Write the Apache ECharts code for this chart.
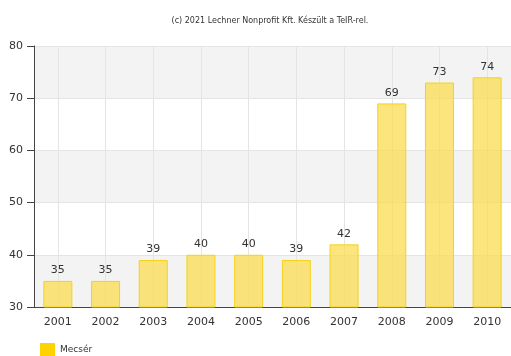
<!DOCTYPE html>
<html>
<head>
<meta charset="utf-8">
<script src="https://cdn.jsdelivr.net/npm/echarts@6/dist/echarts.min.js"></script>
<style>
html,body{margin:0;padding:0;background:#fff;}
#chart{width:511px;height:356px;}
</style>
</head>
<body>
<div id="chart"></div>
<script>
// Years on the category axis
const years = ['2001','2002','2003','2004','2005','2006','2007','2008','2009','2010'];
// Values for Mecsér
const mecserValues = [35, 35, 39, 40, 40, 39, 42, 69, 73, 74];
const seriesName = 'Mecsér';
const sourceNote = '(c) 2021 Lechner Nonprofit Kft. Készült a TeIR-rel.';

const chart = echarts.init(document.getElementById('chart'), null, {renderer: 'canvas'});
const font = 'Verdana, "DejaVu Sans", sans-serif';

chart.setOption({
  animation: false,
  title: {
    text: sourceNote,
    left: 265, top: 12, textAlign: 'center',
    textStyle: {fontSize: 8, fontWeight: 'normal', color: '#333', fontFamily: font}
  },
  legend: {
    data: [seriesName],
    left: 40, top: 343,
    padding: 0,
    itemWidth: 15, itemHeight: 14,
    itemGap: 6,
    icon: 'rect',
    textStyle: {fontSize: 9, color: '#333', fontFamily: font},
    itemStyle: {color: '#ffd200', borderWidth: 0, opacity: 1}
  },
  grid: {left: 34, right: -2, top: 46, bottom: 49, containLabel: false},
  xAxis: {
    type: 'category',
    data: years,
    axisLine: {lineStyle: {color: '#444', width: 1}},
    axisTick: {alignWithLabel: true, length: 5, lineStyle: {color: '#444'}},
    axisLabel: {fontSize: 11, color: '#333', fontFamily: font, margin: 10},
    splitLine: {show: true, alignWithLabel: true, lineStyle: {color: '#e4e4e4'}}
  },
  yAxis: {
    type: 'value',
    min: 30, max: 80, interval: 10,
    axisLine: {show: true, lineStyle: {color: '#444', width: 1}},
    axisTick: {show: true, length: 7, lineStyle: {color: '#444'}},
    axisLabel: {fontSize: 11, color: '#333', fontFamily: font, margin: 11},
    splitLine: {show: true, lineStyle: {color: '#e4e4e4'}},
    splitArea: {show: true, areaStyle: {color: ['#f3f3f3', '#ffffff']}}
  },
  series: [{
    name: seriesName,
    type: 'bar',
    data: mecserValues,
    barWidth: 29,
    itemStyle: {color: 'rgba(250,220,80,0.75)', borderColor: '#f5d21a', borderWidth: 1},
    label: {
      show: true, position: 'top', distance: 5,
      fontSize: 11, color: '#333', fontFamily: font
    }
  }]
});
</script>
</body>
</html>
